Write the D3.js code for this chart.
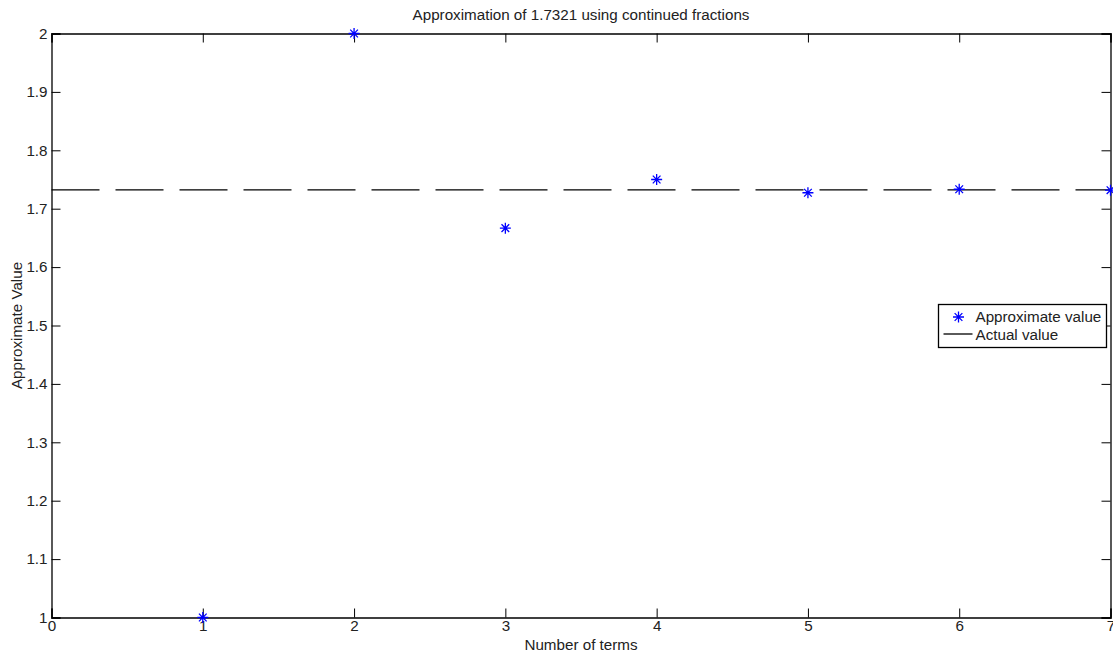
<!DOCTYPE html>
<html>
<head>
<meta charset="utf-8">
<script src="https://cdn.jsdelivr.net/npm/d3@7"></script>
<style>
body { margin: 0; background: #fff; }
svg { display: block; font-family: "Liberation Sans", Arial, sans-serif; }
</style>
</head>
<body>
<div id="chart"></div>
<script>
// continued fraction convergents of sqrt(3)
var terms = [1, 2, 3, 4, 5, 6, 7];
var approx = [1, 2, 1.6667, 1.75, 1.7273, 1.7333, 1.7317];
var actual = 1.7321;
var xTicks = [0, 1, 2, 3, 4, 5, 6, 7];
var yTicks = [1, 1.1, 1.2, 1.3, 1.4, 1.5, 1.6, 1.7, 1.8, 1.9, 2];

var width = 1113, height = 655;
var margin = {top: 33.5, right: 2.5, bottom: 37.5, left: 51.5};
var w = width - margin.left - margin.right;
var h = height - margin.top - margin.bottom;
var fs = 15.2;

var svg = d3.select("#chart").append("svg")
	.attr("width", width)
	.attr("height", height);

var x = d3.scaleLinear().domain([0, 7]).range([0, w]);
var y = d3.scaleLinear().domain([1, 2]).range([h, 0]);

var g = svg.append("g")
	.attr("transform", "translate(" + margin.left + "," + margin.top + ")");

// axes, ticks pointing inward like matlab
var fmt = function(d) { return d3.format("~g")(d); };
var xb = g.append("g").attr("transform", "translate(0," + h + ")")
	.call(d3.axisBottom(x).tickValues(xTicks).tickSize(-9).tickPadding(3).tickFormat(fmt));
var xt = g.append("g")
	.call(d3.axisTop(x).tickValues(xTicks).tickSize(-9).tickFormat(""));
var yl = g.append("g")
	.call(d3.axisLeft(y).tickValues(yTicks).tickSize(-9).tickPadding(4).tickFormat(fmt));
var yr = g.append("g").attr("transform", "translate(" + w + ",0)")
	.call(d3.axisRight(y).tickValues(yTicks).tickSize(-9).tickFormat(""));

[xb, xt, yl, yr].forEach(function(a) {
	a.attr("font-size", fs).attr("font-family", "Liberation Sans, Arial, sans-serif");
	a.select(".domain").attr("stroke", "#000").attr("stroke-width", 1.3);
	a.selectAll(".tick line").attr("stroke", "#000").attr("stroke-width", 1);
	a.selectAll("text").attr("fill", "#222");
});

// actual value line
g.append("line")
	.attr("x1", x(0)).attr("x2", x(7))
	.attr("y1", y(actual)).attr("y2", y(actual))
	.attr("stroke", "#000").attr("stroke-width", 1.3)
	.attr("stroke-dasharray", "48,16");

// asterisk marker
function star(sel, s) {
	var d = "M" + (-s) + ",0L" + s + ",0M0," + (-s) + "L0," + s +
		"M" + (-s * 0.7) + "," + (-s * 0.7) + "L" + (s * 0.7) + "," + (s * 0.7) +
		"M" + (-s * 0.7) + "," + (s * 0.7) + "L" + (s * 0.7) + "," + (-s * 0.7);
	sel.append("path").attr("d", d)
		.attr("stroke", "#0000ff").attr("stroke-width", 1.3).attr("fill", "none");
}

g.selectAll(".pt")
	.data(terms)
	.enter().append("g")
	.attr("class", "pt")
	.attr("transform", function(d, i) { return "translate(" + x(d) + "," + y(approx[i]) + ")"; })
	.each(function() { star(d3.select(this), 5.5); });

// title and labels
svg.append("text")
	.attr("x", margin.left + w / 2).attr("y", 20)
	.attr("text-anchor", "middle").attr("font-size", fs).attr("fill", "#222")
	.text("Approximation of 1.7321 using continued fractions");

svg.append("text")
	.attr("x", margin.left + w / 2).attr("y", 650)
	.attr("text-anchor", "middle").attr("font-size", fs).attr("fill", "#222")
	.text("Number of terms");

svg.append("text")
	.attr("transform", "translate(22," + (margin.top + h / 2) + ") rotate(-90)")
	.attr("text-anchor", "middle").attr("font-size", fs).attr("fill", "#222")
	.text("Approximate Value");

// legend
var lg = svg.append("g").attr("transform", "translate(938.5,304.5)");
lg.append("rect").attr("width", 168).attr("height", 43)
	.attr("fill", "#fff").attr("stroke", "#000").attr("stroke-width", 1.3);
var s1 = lg.append("g").attr("transform", "translate(20,12.5)");
star(s1, 5.5);
lg.append("text").attr("x", 37).attr("y", 17.5).attr("font-size", fs).attr("fill", "#222")
	.text("Approximate value");
lg.append("line").attr("x1", 5).attr("x2", 34).attr("y1", 29.5).attr("y2", 29.5)
	.attr("stroke", "#000").attr("stroke-width", 1.3);
lg.append("text").attr("x", 37).attr("y", 35).attr("font-size", fs).attr("fill", "#222")
	.text("Actual value");
</script>
</body>
</html>
